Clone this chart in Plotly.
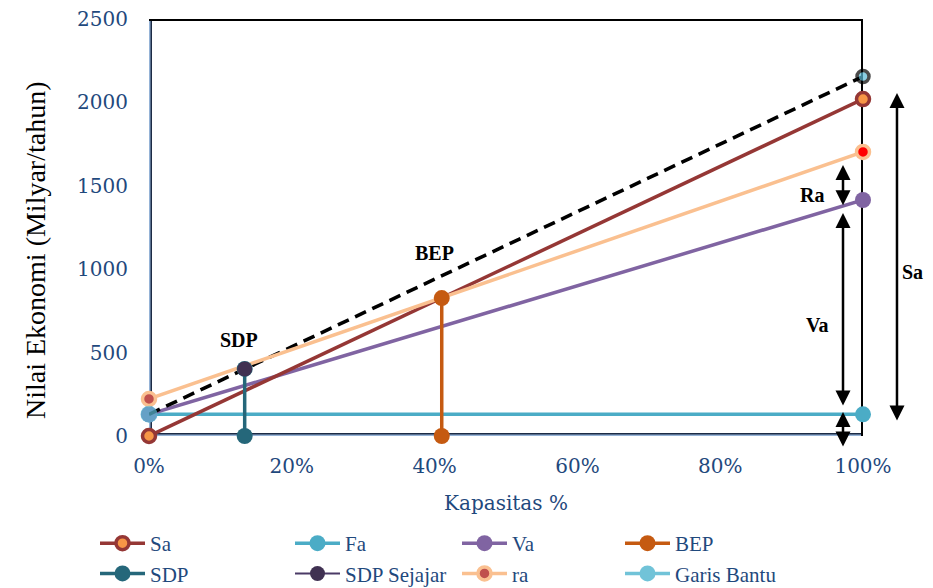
import plotly.graph_objects as go

# Capacity axis (fraction of full capacity)
kapasitas = [0, 1]

# Economic values (billion / year) at 0% and 100% capacity
sa = [0, 2020]          # sales
fa = [130, 130]         # fixed cost
va = [130, 1415]        # variable cost (on top of fixed)
ra = [222, 1703]        # regulated cost

# Break-even point and shutdown point drop lines
bep_x = [0.41, 0.41]
bep_y = [0, 827]
sdp_x = [0.134, 0.134]
sdp_y = [0, 402]

# Parallel line through the shutdown point
sdp_sejajar_x = [0.134]
sdp_sejajar_y = [402]
garis_bantu_x = [0, 1]
garis_bantu_y = [130, 2155]

y_ticks = [0, 500, 1000, 1500, 2000, 2500]
x_ticks = [0, 0.2, 0.4, 0.6, 0.8, 1.0]

TEXT_BLUE = "#1f497d"
TICK_FONT = dict(family="DejaVu Serif", size=20, color=TEXT_BLUE)
LEG_FONT = dict(family="Liberation Serif", size=21, color=TEXT_BLUE)

fig = go.Figure()

# Fixed cost
fig.add_trace(go.Scatter(
    x=kapasitas, y=fa, name="Fa", mode="lines+markers", legend="legend2",
    line=dict(color="#4bacc6", width=3.5),
    marker=dict(color="#4bacc6", size=16), cliponaxis=False))

# Variable cost
fig.add_trace(go.Scatter(
    x=kapasitas, y=va, name="Va", mode="lines+markers", legend="legend3",
    line=dict(color="#8064a2", width=3.5),
    marker=dict(color="#8064a2", size=16), cliponaxis=False))

# Sales
fig.add_trace(go.Scatter(
    x=kapasitas, y=sa, name="Sa", mode="lines+markers", legend="legend",
    line=dict(color="#953735", width=3.5),
    marker=dict(color="#f79646", size=13, line=dict(color="#953735", width=3.5)),
    cliponaxis=False))

# Dashed helper line through SDP
fig.add_trace(go.Scatter(
    x=garis_bantu_x, y=garis_bantu_y, mode="lines", showlegend=False,
    line=dict(color="black", width=3.5, dash="12px,7px"), cliponaxis=False,
    hoverinfo="skip"))

# Regulated cost
fig.add_trace(go.Scatter(
    x=kapasitas, y=ra, name="ra", mode="lines+markers", legend="legend3",
    line=dict(color="#fac090", width=3.5),
    marker=dict(color=["#c0504d", "#ff0000"], size=13,
                line=dict(color="#fac090", width=3.5)),
    cliponaxis=False))

# BEP drop line
fig.add_trace(go.Scatter(
    x=bep_x, y=bep_y, name="BEP", mode="lines+markers", legend="legend4",
    line=dict(color="#c55a11", width=3.5),
    marker=dict(color="#c55a11", size=16), cliponaxis=False))

# SDP drop line
fig.add_trace(go.Scatter(
    x=sdp_x, y=sdp_y, name="SDP", mode="lines+markers", legend="legend",
    line=dict(color="#25677a", width=3.5),
    marker=dict(color="#25677a", size=16), cliponaxis=False))

# SDP point on the parallel line
fig.add_trace(go.Scatter(
    x=sdp_sejajar_x, y=sdp_sejajar_y, name="SDP Sejajar", mode="lines+markers",
    legend="legend2",
    line=dict(color="#4b3a66", width=2),
    marker=dict(color="#403152", size=15), cliponaxis=False))

# Helper-line end points
fig.add_trace(go.Scatter(
    x=garis_bantu_x, y=garis_bantu_y, mode="markers", showlegend=False,
    marker=dict(color="#5bbad6", size=[17, 12],
                line=dict(color=["#71c3d8", "black"], width=[0, 3.5])),
    cliponaxis=False, hoverinfo="skip"))
fig.add_trace(go.Scatter(
    x=[None], y=[None], name="Garis Bantu", mode="lines+markers", legend="legend4",
    line=dict(color="#71c3d8", width=3.5),
    marker=dict(color="#71c3d8", size=16)))

# Frame of the plot area
shapes = [
    dict(type="line", xref="x", yref="y", x0=0, y0=0, x1=0, y1=2500,
         line=dict(color="#1c2b45", width=6), layer="below"),
    dict(type="line", xref="x", yref="y", x0=0, y0=0, x1=1, y1=0,
         line=dict(color="#1c2b45", width=6), layer="below"),
    dict(type="line", xref="x", yref="y", x0=0, y0=0, x1=0, y1=2500,
         line=dict(color="#95b3d7", width=3), layer="below"),
    dict(type="line", xref="x", yref="y", x0=0, y0=0, x1=1, y1=0,
         line=dict(color="#95b3d7", width=3), layer="below"),
    dict(type="line", xref="x", yref="y", x0=0, y0=2500, x1=1, y1=2500,
         line=dict(color="black", width=4), layer="below"),
    dict(type="line", xref="x", yref="y", x0=1, y0=-5, x1=1, y1=2500,
         line=dict(color="black", width=4), layer="below"),
]

LBL = dict(family="Liberation Serif", size=20, color="black")


def label(text, x, y):
    return dict(text="<b>%s</b>" % text, x=x, y=y, xref="paper", yref="y",
                xanchor="center", yanchor="middle",
                showarrow=False, font=LBL)


def arrow(x, y_head, y_tail):
    return dict(x=x, y=y_head, ax=0, ay=y_tail, xref="paper", yref="y",
                axref="pixel", ayref="y", text="", showarrow=True,
                arrowhead=2, startarrowhead=2, arrowsize=1.2,
                startarrowsize=1.2, arrowwidth=2.5, arrowcolor="black",
                arrowside="end+start")


annotations = [
    label("BEP", 0.40, 1095),
    label("SDP", 0.126, 575),
    label("Ra", 0.929, 1445),
    label("Va", 0.936, 665),
    label("Sa", 1.069, 985),
    arrow(0.972, 1625, 1375),
    arrow(0.972, 1337, 174),
    arrow(0.972, 144, -72),
    arrow(1.0476, 2056, 84),
    dict(text="Nilai Ekonomi (Milyar/tahun)", textangle=-90,
         x=(35 - 149) / 714, y=(436 - 250) / 417, xref="paper", yref="paper",
         xanchor="center", yanchor="middle", showarrow=False,
         font=dict(family="Liberation Serif", size=28, color="black")),
]

legend_common = dict(orientation="v", yanchor="top", xanchor="left",
                     font=LEG_FONT, bgcolor="rgba(0,0,0,0)",
                     tracegroupgap=0, itemwidth=45)
leg_y = -(523 - 436) / 417

fig.update_layout(
    width=933, height=588,
    margin=dict(l=149, r=70, t=19, b=152, autoexpand=False),
    plot_bgcolor="white", paper_bgcolor="white",
    shapes=shapes, annotations=annotations,
    xaxis=dict(range=[0, 1], tickvals=x_ticks, tickformat=".0%",
               showgrid=False, zeroline=False, showline=False,
               tickfont=TICK_FONT, ticks="", ticklabelstandoff=16,
               automargin=False,
               title=dict(text="Kapasitas %", font=dict(family="DejaVu Serif",
                          size=20, color=TEXT_BLUE), standoff=18)),
    yaxis=dict(range=[0, 2500], tickvals=y_ticks, showgrid=False,
               zeroline=False, showline=False, tickfont=TICK_FONT, ticks="",
               ticklabelstandoff=20, automargin=False),
    legend=dict(legend_common, x=(95 - 149) / 714, y=leg_y),
    legend2=dict(legend_common, x=(290 - 149) / 714, y=leg_y),
    legend3=dict(legend_common, x=(457 - 149) / 714, y=leg_y),
    legend4=dict(legend_common, x=(620 - 149) / 714, y=leg_y),
)

fig.write_html("out.html")
